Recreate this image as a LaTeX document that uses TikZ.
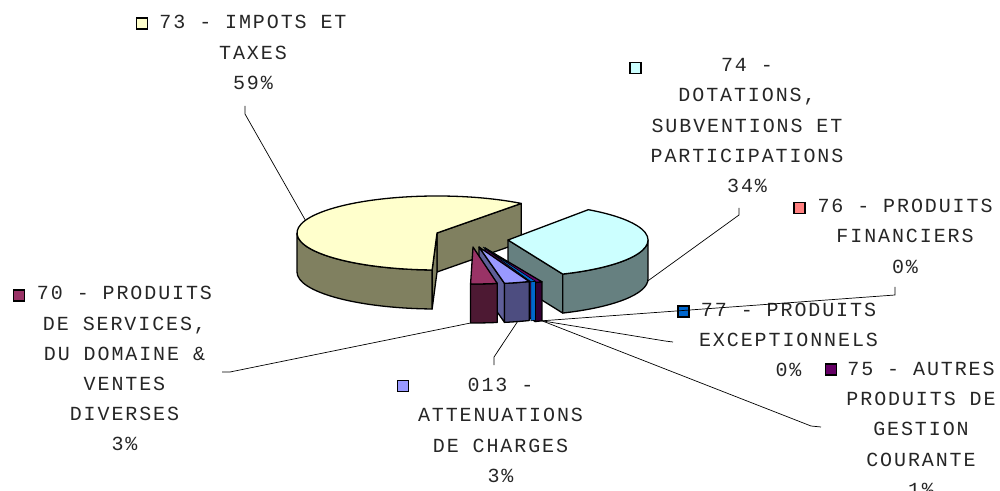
\documentclass[tikz,border=0pt]{standalone}
\usepackage{fontspec}
\newfontfamily\lblfont[LetterSpace=9.5]{Liberation Mono}
\usetikzlibrary{calc}
\definecolor{ytop}{HTML}{FFFFCC}
\definecolor{yside}{HTML}{808060}
\definecolor{ctop}{HTML}{CCFFFF}
\definecolor{cside}{HTML}{668080}
\definecolor{mtop}{HTML}{993366}
\definecolor{mside}{HTML}{4D1933}
\definecolor{ltop}{HTML}{9999FF}
\definecolor{lside}{HTML}{4D4D80}
\definecolor{lrad}{HTML}{5F5F99}
\definecolor{ptop}{HTML}{660066}
\definecolor{pside}{HTML}{330033}
\definecolor{bcol}{HTML}{0066CC}
\definecolor{scol}{HTML}{FF8080}
\tikzset{
  lab/.style={inner sep=0pt, anchor=base, text=black!85, font=\lblfont\fontsize{20}{30.2}\selectfont},
  key/.style={draw=black, line width=1.4pt, minimum size=11pt, inner sep=0pt},
  lead/.style={draw=black, line width=0.7pt},
  pie/.style={draw=black, line width=1.3pt, line join=round},
  ea/.style={x radius=140pt, y radius=37pt},
}
\newcommand\lines[1]{\begin{tabular}[t]{@{}c@{}}#1\end{tabular}}
\begin{document}
\begin{tikzpicture}[x=1pt,y=1pt]
\useasboundingbox (0,0) rectangle (1000,490);
% ---------- yellow slice (73) ----------
\coordinate (Cy) at (437,257);
\path (Cy) ++(53:140pt and 37pt) coordinate (Ya);
\path (Cy) ++(268:140pt and 37pt) coordinate (Yb);
\path (Cy) ++(180:140pt and 37pt) coordinate (Yl);
\filldraw[pie, fill=yside] (Cy) -- (Ya) -- ++(0,-39) -- ($(Cy)+(0,-39)$) -- cycle;
\filldraw[pie, fill=yside] (Cy) -- (Yb) -- ++(0,-39) -- ($(Cy)+(0,-39)$) -- cycle;
\filldraw[pie, fill=yside] (Yl) arc[start angle=180, end angle=268, ea] -- ++(0,-39) arc[start angle=268, end angle=180, ea] -- cycle;
\filldraw[pie, fill=ytop] (Cy) -- (Ya) arc[start angle=53, end angle=268, ea] -- cycle;
% ---------- cyan slice (74) ----------
\coordinate (Cc) at (508,250);
\path (Cc) ++(-67:140pt and 37pt) coordinate (Ca);
\filldraw[pie, fill=cside] (Cc) -- (Ca) -- ++(0,-39) -- ($(Cc)+(0,-39)$) -- cycle;
\filldraw[pie, fill=cside] (Ca) arc[start angle=-67, end angle=0, ea] -- ++(0,-39) arc[start angle=0, end angle=-67, ea] -- cycle;
\filldraw[pie, fill=ctop] (Cc) -- (Ca) arc[start angle=-67, end angle=55, ea] -- cycle;
% ---------- purple slice (75) ----------
\coordinate (Cp) at (485,242);
\path (Cp) ++(-69:140pt and 37pt) coordinate (Pa);
\path (Cp) ++(-66:140pt and 37pt) coordinate (Pb);
\filldraw[pie, fill=ptop!70!black] (Cp) -- (Pa) -- ++(0,-39) -- ($(Cp)+(0,-39)$) -- cycle;
\filldraw[pie, fill=pside] (Pa) arc[start angle=-69, end angle=-66, ea] -- ++(0,-39) arc[start angle=-66, end angle=-69, ea] -- cycle;
\filldraw[pie, fill=ptop] (Cp) -- (Pa) arc[start angle=-69, end angle=-66, ea] -- cycle;
% ---------- blue slice (77) ----------
\coordinate (Cb) at (483,243);
\path (Cb) ++(-70:140pt and 37pt) coordinate (Ba);
\filldraw[draw=black, line width=0.6pt, fill=bcol] (Ba) arc[start angle=-70, end angle=-68, ea] -- ++(0,-39) arc[start angle=-68, end angle=-70, ea] -- cycle;
\filldraw[draw=black, line width=0.6pt, fill=bcol] (Cb) -- (Ba) arc[start angle=-70, end angle=-68, ea] -- cycle;
% ---------- lavender slice (013) ----------
\coordinate (Cl) at (479,243);
\path (Cl) ++(-79.5:140pt and 37pt) coordinate (La);
\filldraw[pie, fill=lrad] (Cl) -- (La) -- ++(0,-39) -- ($(Cl)+(0,-39)$) -- cycle;
\filldraw[pie, fill=lside] (La) arc[start angle=-79.5, end angle=-69, ea] -- ++(0,-39) arc[start angle=-69, end angle=-79.5, ea] -- cycle;
\filldraw[pie, fill=ltop] (Cl) -- (La) arc[start angle=-79.5, end angle=-69, ea] -- cycle;
% ---------- magenta slice (70) ----------
\coordinate (Cm) at (473,243);
\path (Cm) ++(-91:140pt and 37pt) coordinate (Ma);
\filldraw[pie, fill=mside] (Ma) arc[start angle=-91, end angle=-80, ea] -- ++(0,-39) arc[start angle=-80, end angle=-91, ea] -- cycle;
\filldraw[pie, fill=mtop] (Cm) -- (Ma) arc[start angle=-91, end angle=-80, ea] -- cycle;
% ---------- leader anchor points on slices ----------
\path (Cy) ++(160:140pt and 37pt) coordinate (e73);
\path (Cc) ++(-3:140pt and 37pt) ++(0,-39) coordinate (e74);
\path (Pb) ++(0,-39) coordinate (e75);
\path (Cl) ++(-74:140pt and 37pt) ++(0,-39) coordinate (e013);
\path (Ma) ++(0,-39) coordinate (e70);
% ---------- labels ----------
\node[lab] (t73) at (253,461) {\lines{73 - IMPOTS ET\\TAXES\\59\%}};
\node[key, fill=ytop] (k73) at (142,466.5) {};
\node[lab] (t74) at (747,418.3) {\lines{74 -\\DOTATIONS,\\SUBVENTIONS ET\\PARTICIPATIONS\\34\%}};
\node[key, fill=ctop] (k74) at (635.5,422) {};
\node[lab] (t76) at (905,277.3) {\lines{76 - PRODUITS\\FINANCIERS\\0\%}};
\node[key, fill=scol] (k76) at (799.5,282) {};
\node[lab] (t70) at (124.5,190) {\lines{70 - PRODUITS\\DE SERVICES,\\DU DOMAINE \&\\VENTES\\DIVERSES\\3\%}};
\node[key, fill=mtop] (k70) at (19,194.5) {};
\node[lab] (t013) at (500.5,98.3) {\lines{013 -\\ATTENUATIONS\\DE CHARGES\\3\%}};
\node[key, fill=ltop] (k013) at (403,104) {};
\node[lab] (t77) at (788.5,173.5) {\lines{77 - PRODUITS\\EXCEPTIONNELS\\0\%}};
\node[key, fill=bcol] (k77) at (683.5,178.5) {};
\node[lab] (t75) at (921,114.5) {\lines{75 - AUTRES\\PRODUITS DE\\GESTION\\COURANTE\\1\%}};
\node[key, fill=ptop] (k75) at (831,120.5) {};
% ---------- leader lines ----------
\coordinate (s73) at (245,384);
\coordinate (s74) at (739,282);
\coordinate (s76) at (895,203);
\coordinate (s77) at (673,148);
\coordinate (s75) at (821,63);
\coordinate (s013) at (494,125);
\coordinate (s70) at (222,118);
\draw[lead] (s73) -- ++(0,-8) -- (e73);
\draw[lead] (s74) -- ++(0,-7) -- (e74);
\draw[lead] (s76) -- ++(0,-8) -- (e75);
\draw[lead] (s77) -- ++(-8,1) -- (e75);
\draw[lead] (s75) -- ++(-10,1) -- (e75);
\draw[lead] (s013) -- ++(0,8) -- (e013);
\draw[lead] (s70) -- ++(8,0) -- (e70);
\end{tikzpicture}
\end{document}
